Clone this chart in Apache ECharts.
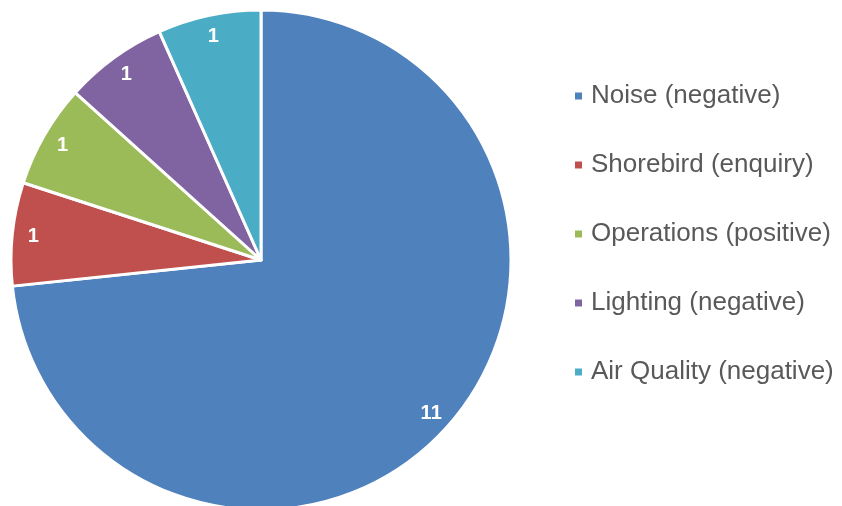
<!DOCTYPE html>
<html><head><meta charset="utf-8">
<script src="https://cdn.jsdelivr.net/npm/echarts@6/dist/echarts.min.js"></script>
<style>html,body{margin:0;padding:0;background:#fff}#c{width:842px;height:506px}</style>
</head><body><div id="c"></div>
<script>
const categories = ['Noise (negative)', 'Shorebird (enquiry)', 'Operations (positive)', 'Lighting (negative)', 'Air Quality (negative)'];
const values = [11, 1, 1, 1, 1];
const colors = ['#4F81BD', '#C0504D', '#9BBB59', '#8064A2', '#4BACC6'];

const data = categories.map((n, i) => ({ name: n, value: values[i], itemStyle: { color: colors[i] } }));
const chart = echarts.init(document.getElementById('c'), null, { renderer: 'canvas' });
chart.setOption({
  animation: false,
  textStyle: { fontFamily: 'Liberation Sans, Arial, sans-serif' },
  legend: {
    orient: 'vertical', left: 568, top: 78,
    itemWidth: 9, itemHeight: 9, itemGap: 43, icon: 'rect',
    textStyle: { fontSize: 26, color: '#595959', padding: [0, 0, 0, 3], fontFamily: 'Liberation Sans, Arial, sans-serif' },
    data: categories
  },
  series: [{
    type: 'pie', center: [261, 260], radius: [0, 250], startAngle: 90, clockwise: true,
    itemStyle: { borderColor: '#fff', borderWidth: 3 },
    label: { show: false }, labelLine: { show: false },
    emphasis: { disabled: true },
    data: data
  }, {
    type: 'pie', center: [261, 260], radius: [202, 250], startAngle: 90, clockwise: true,
    silent: true, legendHoverLink: false,
    itemStyle: { color: 'rgba(0,0,0,0)', borderWidth: 0 },
    label: { show: true, position: 'inside', formatter: '{c}', color: '#fff', fontWeight: 'bold', fontSize: 20, fontFamily: 'Liberation Sans, Arial, sans-serif' },
    labelLine: { show: false },
    emphasis: { disabled: true },
    data: categories.map((n, i) => ({ name: n + ' ', value: values[i] }))
  }]
});
</script></body></html>
